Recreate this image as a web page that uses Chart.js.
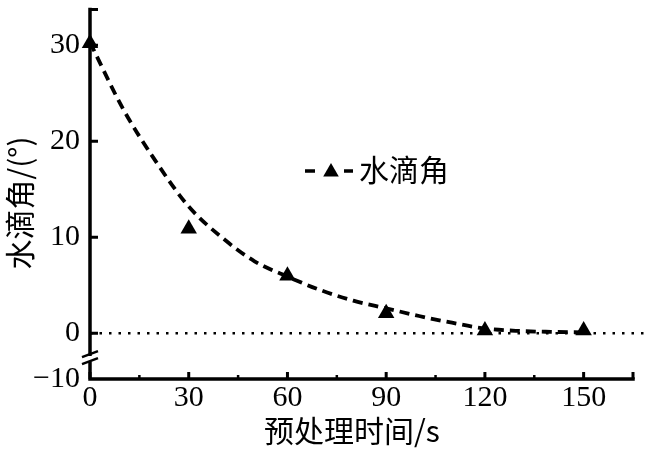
<!DOCTYPE html>
<html><head><meta charset="utf-8">
<script src="https://cdn.jsdelivr.net/npm/chart.js@4/dist/chart.umd.min.js"></script>
<style>html,body{margin:0;padding:0;background:#fff}#wrap{width:662px;height:465px;position:relative}</style>
</head><body><div id="wrap"><canvas id="c" width="662" height="465"></canvas></div>
<script>
// ---- data ----
const timeX = [0, 30, 60, 90, 120, 150];
const contactAngle = [30.2, 10.9, 6.0, 2.1, 0.3, 0.3];
const fitX = [0, 10, 20, 30, 40, 50, 60, 70, 80, 90, 100, 110, 120, 130, 140, 150];
const fitY = [30.3, 23.4, 17.9, 13.2, 10.0, 7.5, 5.9, 4.5, 3.4, 2.6, 1.8, 1.1, 0.5, 0.25, 0.15, 0.1];
const xTicks = [0, 30, 60, 90, 120, 150];
const xMinorTicks = [15, 45, 75, 105, 135];
const yTicks = [0, 10, 20, 30];
const yBreakLabel = '−10';
const seriesName = '水滴角';
const xTitle = '预处理时间/s';
const yTitle = '水滴角/(°)';

// broken-axis: the bottom of the axis (labelled -10) sits here on the linear scale
const Y_BOTTOM = -4.76, Y_TOP = 33.72, X_MAX = 165, ZERO_END = 170;

const serif = '"Liberation Serif", "DejaVu Serif", serif';
const cjk = '"Noto Sans CJK SC", "Noto Sans CJK JP", sans-serif';

function tri(ctx, cx, cy, r) {
  ctx.beginPath();
  const s = r * Math.sqrt(3);
  ctx.moveTo(cx, cy - r);
  ctx.lineTo(cx + s / 2, cy + r / 2);
  ctx.lineTo(cx - s / 2, cy + r / 2);
  ctx.closePath();
  ctx.fill();
}

const axesPlugin = {
  id: 'axesDraw',
  beforeDatasetsDraw(chart) {
    const { ctx, scales: { x, y } } = chart;
    const L = x.getPixelForValue(0), R = x.getPixelForValue(X_MAX);
    const B = y.getPixelForValue(Y_BOTTOM), T = y.getPixelForValue(Y_TOP);
    ctx.save();
    ctx.strokeStyle = '#000';
    ctx.lineWidth = 3.5;
    ctx.lineCap = 'square';
    const brk = (y.getPixelForValue(0) + B) / 2 + 2;
    ctx.beginPath();
    ctx.moveTo(L, T); ctx.lineTo(L, brk - 4);
    ctx.moveTo(L, brk + 5); ctx.lineTo(L, B);
    ctx.lineTo(R, B);
    ctx.stroke();
    ctx.lineCap = 'butt';
    ctx.lineWidth = 3;
    ctx.beginPath();
    ctx.moveTo(L, T); ctx.lineTo(L + 8, T);
    ctx.moveTo(R, B); ctx.lineTo(R, B - 7);
    ctx.stroke();
    ctx.lineWidth = 2.5;
    ctx.beginPath();
    ctx.moveTo(L - 8, brk - 1); ctx.lineTo(L + 8, brk - 7);
    ctx.moveTo(L - 8, brk + 6); ctx.lineTo(L + 8, brk);
    ctx.stroke();
    ctx.lineWidth = 3;
    ctx.beginPath();
    yTicks.forEach(v => { const p = y.getPixelForValue(v); ctx.moveTo(L, p); ctx.lineTo(L + 8, p); });
    xTicks.forEach(v => { const p = x.getPixelForValue(v); ctx.moveTo(p, B); ctx.lineTo(p, B - 7); });
    ctx.stroke();
    ctx.lineWidth = 2.5;
    ctx.beginPath();
    xMinorTicks.forEach(v => { const p = x.getPixelForValue(v); ctx.moveTo(p, B); ctx.lineTo(p, B - 4); });
    ctx.stroke();
    ctx.restore();
  },
  afterDraw(chart) {
    const { ctx } = chart;
    ctx.save();
    ctx.fillStyle = '#000';
    ctx.font = '30px ' + cjk;
    ctx.textAlign = 'center';
    ctx.textBaseline = 'middle';
    ctx.fillText(xTitle, 352, 431);
    ctx.save();
    ctx.translate(20, 203);
    ctx.rotate(-Math.PI / 2);
    ctx.font = '30px ' + cjk;
    ctx.fillText(yTitle, 0, 0);
    ctx.restore();
    ctx.strokeStyle = '#000';
    ctx.lineWidth = 3.5;
    ctx.beginPath();
    ctx.moveTo(305, 171); ctx.lineTo(315, 171);
    ctx.moveTo(344, 171); ctx.lineTo(353, 171);
    ctx.stroke();
    tri(ctx, 331, 172, 9);
    ctx.font = '30px ' + cjk;
    ctx.textAlign = 'left';
    ctx.fillText(seriesName, 359, 170);
    ctx.restore();
  }
};

new Chart(document.getElementById('c'), {
  type: 'scatter',
  data: {
    datasets: [
      {
        label: 'zero',
        data: [{ x: 0, y: 0 }, { x: ZERO_END, y: 0 }],
        showLine: true, borderColor: '#000', borderWidth: 2.5, borderDash: [2.5, 7],
        pointRadius: 0, clip: false, order: 3
      },
      {
        label: 'fit',
        data: fitX.map((v, i) => ({ x: v, y: fitY[i] })),
        showLine: true, borderColor: '#000', borderWidth: 3.8, borderDash: [10, 6],
        cubicInterpolationMode: 'monotone', pointRadius: 0, clip: false, order: 2
      },
      {
        label: seriesName,
        data: timeX.map((v, i) => ({ x: v, y: contactAngle[i] })),
        pointStyle: 'triangle', pointRadius: 9.5, backgroundColor: '#000', borderColor: '#000',
        borderWidth: 0, clip: false, order: 1
      }
    ]
  },
  options: {
    responsive: false,
    animation: false,
    devicePixelRatio: 1,
    layout: { padding: { top: 7, right: 29, left: 0, bottom: 0 } },
    plugins: { legend: { display: false }, tooltip: { enabled: false } },
    scales: {
      x: {
        type: 'linear', min: 0, max: X_MAX,
        grid: { display: false, drawTicks: false },
        border: { display: false },
        afterBuildTicks: s => { s.ticks = xTicks.map(v => ({ value: v })); },
        afterFit: s => { s.height = 86; s.paddingLeft = 0; s.paddingRight = 0; },
        ticks: { color: '#000', font: { family: serif, size: 30 }, padding: 1, maxRotation: 0, autoSkip: false }
      },
      y: {
        type: 'linear', min: Y_BOTTOM, max: Y_TOP,
        grid: { display: false, drawTicks: false },
        border: { display: false },
        afterBuildTicks: s => { s.ticks = [{ value: Y_BOTTOM }].concat(yTicks.map(v => ({ value: v }))); },
        afterFit: s => { s.width = 90; s.paddingTop = 0; s.paddingBottom = 0; },
        ticks: {
          color: '#000', font: { family: serif, size: 30 }, padding: 10, autoSkip: false,
          callback: v => (v === Y_BOTTOM ? yBreakLabel : String(v))
        }
      }
    }
  },
  plugins: [axesPlugin]
});
</script>
</body></html>
